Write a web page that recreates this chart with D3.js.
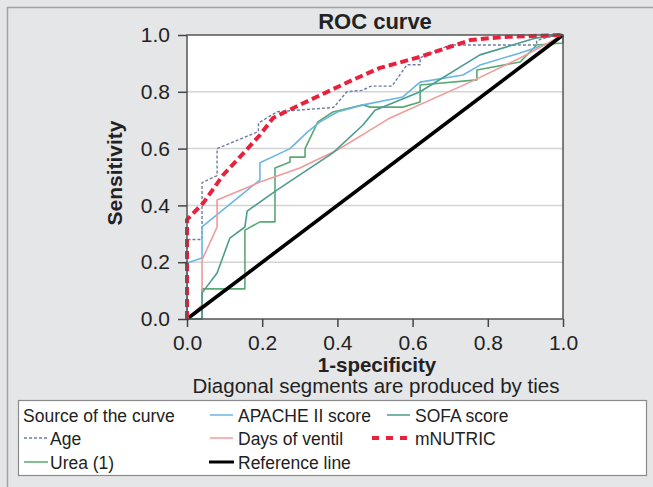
<!DOCTYPE html>
<html>
<head>
<meta charset="utf-8">
<script src="https://cdn.jsdelivr.net/npm/d3@7"></script>
<style>
  body { margin: 0; background: #e5e6e8; }
  svg { display: block; font-family: "Liberation Sans", Arial, sans-serif; }
</style>
</head>
<body>
<script>

// ROC points: [1-specificity, sensitivity]
const age = [[0,0],[0,0.28],[0.04,0.28],[0.04,0.48],[0.08,0.505],[0.08,0.60],[0.19,0.66],[0.19,0.69],[0.24,0.73],[0.39,0.745],[0.425,0.80],[0.465,0.805],[0.49,0.82],[0.545,0.82],[0.585,0.895],[0.62,0.895],[0.62,0.92],[0.70,0.965],[0.93,0.965],[0.93,0.98],[0.96,0.993],[1,1]];
const apache = [[0,0],[0,0.197],[0.04,0.215],[0.04,0.324],[0.194,0.49],[0.194,0.55],[0.274,0.60],[0.32,0.658],[0.354,0.694],[0.40,0.729],[0.468,0.754],[0.574,0.782],[0.62,0.834],[0.734,0.859],[0.779,0.894],[0.886,0.937],[0.965,0.972],[1,1]];
const ventil = [[0,0],[0.04,0.05],[0.04,0.208],[0.08,0.324],[0.08,0.419],[0.194,0.482],[0.30,0.532],[0.40,0.595],[0.487,0.665],[0.54,0.708],[0.753,0.834],[0.886,0.919],[1,1]];
const sofa = [[0,0],[0.04,0],[0.04,0.092],[0.08,0.162],[0.114,0.285],[0.154,0.324],[0.16,0.38],[0.239,0.454],[0.388,0.585],[0.468,0.683],[0.50,0.735],[0.62,0.80],[0.779,0.93],[0.93,0.99],[1,1]];
const urea = [[0,0],[0.04,0],[0.04,0.106],[0.154,0.106],[0.154,0.313],[0.194,0.342],[0.234,0.342],[0.234,0.532],[0.274,0.553],[0.274,0.57],[0.314,0.57],[0.314,0.60],[0.348,0.694],[0.388,0.729],[0.468,0.754],[0.487,0.746],[0.574,0.746],[0.62,0.764],[0.62,0.824],[0.771,0.842],[0.771,0.877],[0.886,0.905],[0.93,0.965],[1,0.972],[1,1]];
const mnutric = [[0,0],[0,0.35],[0.043,0.408],[0.096,0.507],[0.16,0.598],[0.194,0.648],[0.229,0.708],[0.30,0.754],[0.372,0.799],[0.441,0.842],[0.513,0.884],[0.62,0.923],[0.753,0.982],[0.84,0.993],[1,1]];
const reference = [[0,0],[1,1]];

const ticks = [0, 0.2, 0.4, 0.6, 0.8, 1.0];

const series = [
  { name: 'Age', data: age, color: '#6d7ba6', width: 1.4, dash: '3,2' },
  { name: 'Urea (1)', data: urea, color: '#5aa873', width: 1.6, dash: null },
  { name: 'APACHE II score', data: apache, color: '#6ab6e2', width: 1.6, dash: null },
  { name: 'Days of ventil', data: ventil, color: '#f29a9a', width: 1.6, dash: null },
  { name: 'SOFA score', data: sofa, color: '#4c9c8e', width: 1.6, dash: null },
  { name: 'Reference line', data: reference, color: '#000', width: 3.6, dash: null },
  { name: 'mNUTRIC', data: mnutric, color: '#e8223d', width: 4, dash: '8,4' }
];

const WIDTH = 653, HEIGHT = 487;
const PLOT = { left: 187, right: 563, top: 35, bottom: 319 };

const svg = d3.select('body').append('svg')
  .attr('width', WIDTH)
  .attr('height', HEIGHT);

// outer frame
svg.append('path')
  .attr('d', `M7.5,${HEIGHT} V7.5 H${WIDTH}`)
  .attr('fill', 'none')
  .attr('stroke', '#a3a3a3')
  .attr('stroke-width', 1.5);

const x = d3.scaleLinear().domain([0, 1]).range([PLOT.left, PLOT.right]);
const y = d3.scaleLinear().domain([0, 1]).range([PLOT.bottom, PLOT.top]);

svg.append('rect')
  .attr('x', PLOT.left).attr('y', PLOT.top)
  .attr('width', PLOT.right - PLOT.left)
  .attr('height', PLOT.bottom - PLOT.top)
  .attr('fill', '#fff');

// horizontal grid
svg.append('g')
  .selectAll('line')
  .data(ticks.slice(1, -1))
  .enter().append('line')
    .attr('x1', PLOT.left).attr('x2', PLOT.right)
    .attr('y1', (d) => y(d)).attr('y2', (d) => y(d))
    .attr('stroke', '#d4d4d4')
    .attr('stroke-width', 1.5);

const line = d3.line()
  .x((d) => x(d[0]))
  .y((d) => y(d[1]));

svg.append('g')
  .selectAll('path')
  .data(series)
  .enter().append('path')
    .attr('d', (d) => line(d.data))
    .attr('fill', 'none')
    .attr('stroke', (d) => d.color)
    .attr('stroke-width', (d) => d.width)
    .attr('stroke-dasharray', (d) => d.dash)
    .attr('stroke-linejoin', 'round');

// plot border
svg.append('rect')
  .attr('x', PLOT.left).attr('y', PLOT.top)
  .attr('width', PLOT.right - PLOT.left)
  .attr('height', PLOT.bottom - PLOT.top)
  .attr('fill', 'none')
  .attr('stroke', '#555')
  .attr('stroke-width', 1.5);

const fmt = d3.format('.1f');

const xAxis = svg.append('g')
  .attr('transform', `translate(0,${PLOT.bottom})`)
  .call(d3.axisBottom(x).tickValues(ticks).tickFormat(fmt).tickSize(8).tickPadding(8));

const yAxis = svg.append('g')
  .attr('transform', `translate(${PLOT.left},0)`)
  .call(d3.axisLeft(y).tickValues(ticks).tickFormat(fmt).tickSize(9).tickPadding(8));

[xAxis, yAxis].forEach((g) => {
  g.select('.domain').remove();
  g.selectAll('.tick line').attr('stroke', '#444').attr('stroke-width', 1.5);
  g.selectAll('.tick text')
    .attr('fill', '#222')
    .style('font-size', '21px')
    .style('font-family', '"Liberation Sans", Arial, sans-serif');
});

// titles
svg.append('text')
  .attr('x', 375).attr('y', 29)
  .attr('text-anchor', 'middle')
  .style('font-size', '22px').style('font-weight', 'bold')
  .attr('fill', '#222')
  .text('ROC curve');

svg.append('text')
  .attr('x', 377).attr('y', 372)
  .attr('text-anchor', 'middle')
  .style('font-size', '20.5px').style('font-weight', 'bold')
  .attr('fill', '#222')
  .text('1-specificity');

svg.append('text')
  .attr('transform', 'translate(122,173) rotate(-90)')
  .attr('text-anchor', 'middle')
  .style('font-size', '21px').style('font-weight', 'bold')
  .attr('fill', '#222')
  .text('Sensitivity');

svg.append('text')
  .attr('x', 376).attr('y', 393)
  .attr('text-anchor', 'middle')
  .style('font-size', '20.5px')
  .attr('fill', '#222')
  .text('Diagonal segments are produced by ties');

// legend
const legend = svg.append('g');

legend.append('rect')
  .attr('x', 18.5).attr('y', 400.5)
  .attr('width', 628).attr('height', 75)
  .attr('fill', '#fff')
  .attr('stroke', '#8a8a8a')
  .attr('stroke-width', 1.2);

legend.append('text')
  .attr('x', 23).attr('y', 422)
  .style('font-size', '17.5px')
  .attr('fill', '#222')
  .text('Source of the curve');

const legendPos = {
  'Age':             { x1: 24,  x2: 48,  tx: 50,  y: 438 },
  'Urea (1)':        { x1: 24,  x2: 48,  tx: 50,  y: 462 },
  'APACHE II score': { x1: 210, x2: 233, tx: 238, y: 415 },
  'Days of ventil':  { x1: 210, x2: 233, tx: 238, y: 438 },
  'Reference line':  { x1: 209, x2: 234, tx: 238, y: 462 },
  'SOFA score':      { x1: 387, x2: 410, tx: 415, y: 415 },
  'mNUTRIC':         { x1: 372, x2: 409, tx: 415, y: 438 }
};

const items = legend.selectAll('.item')
  .data(series)
  .enter().append('g')
    .attr('class', 'item');

items.append('line')
  .attr('x1', (d) => legendPos[d.name].x1)
  .attr('x2', (d) => legendPos[d.name].x2)
  .attr('y1', (d) => legendPos[d.name].y)
  .attr('y2', (d) => legendPos[d.name].y)
  .attr('stroke', (d) => d.color)
  .attr('stroke-width', (d) => d.name === 'mNUTRIC' ? 4 : d.name === 'Reference line' ? 3 : 1.5)
  .attr('stroke-dasharray', (d) => d.name === 'mNUTRIC' ? '7,7' : d.dash);

items.append('text')
  .attr('x', (d) => legendPos[d.name].tx)
  .attr('y', (d) => legendPos[d.name].y + 7)
  .style('font-size', '17.5px')
  .attr('fill', '#222')
  .text((d) => d.name);

</script>
</body>
</html>
